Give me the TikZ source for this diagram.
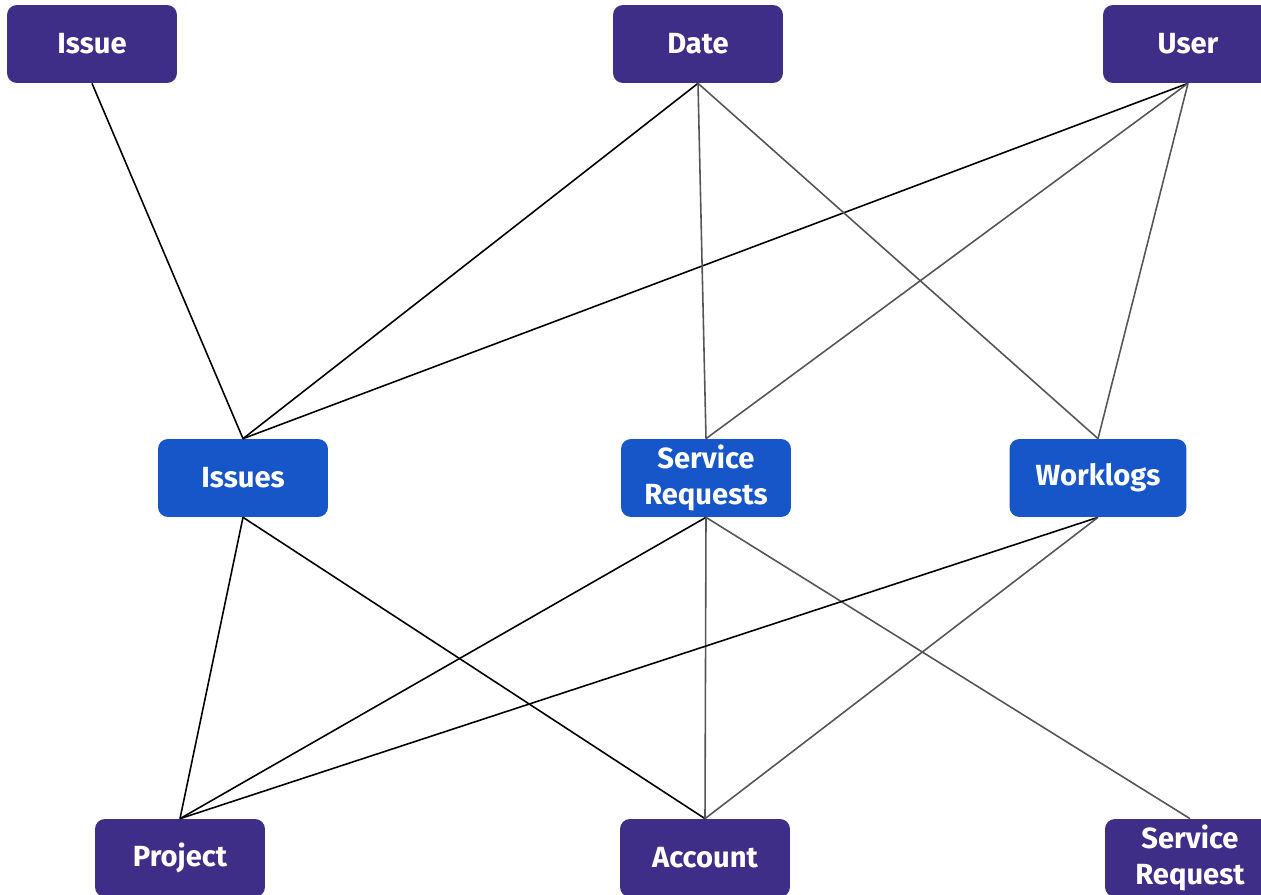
\documentclass[tikz,border=0pt]{standalone}
\usepackage{fontspec}
\setmainfont{Fira Sans}
\usepackage{tikz}
\usetikzlibrary{calc}

\definecolor{dimpurple}{HTML}{3E2E88}
\definecolor{factblue}{HTML}{1656C8}
\definecolor{linkgray}{HTML}{555555}

\tikzset{
  dimbox/.style={rectangle, rounded corners=0.2cm, fill=dimpurple, text=white,
    font=\fontsize{16.6}{20.5}\selectfont\bfseries, minimum width=3.4cm,
    minimum height=1.56cm, align=center, inner sep=0pt},
  factbox/.style={dimbox, fill=factblue},
  strong/.style={draw=black, line width=0.9pt},
  weak/.style={draw=linkgray, line width=0.9pt}
}

\begin{document}
\begin{tikzpicture}[x=0.02cm, y=-0.02cm]
      \useasboundingbox (0,0) rectangle (1261,895);
      % dimension nodes (top)
      \node[dimbox] (issue) at (92,44) {Issue};
      \node[dimbox] (date) at (698,44) {Date};
      \node[dimbox] (user) at (1188,44) {User};
      % fact nodes
      \node[factbox] (issues) at (243,478) {Issues};
      \node[factbox] (servreqs) at (706,478) {Service\\Requests};
      \node[factbox, minimum width=3.54cm] (worklogs) at (1098,478) {Worklogs};
      % dimension nodes (bottom)
      \node[dimbox] (project) at (180,858) {Project};
      \node[dimbox] (account) at (705,858) {Account};
      \node[dimbox] (servreq) at (1190,858) {Service\\Request};
      % upper edges
      \draw[strong] (issue.south) -- (issues.north);
      \draw[strong] (date.south) -- (issues.north);
      \draw[strong] (user.south) -- (issues.north);
      \draw[weak] (date.south) -- (servreqs.north);
      \draw[weak] (date.south) -- (worklogs.north);
      \draw[weak] (user.south) -- (servreqs.north);
      \draw[weak] (user.south) -- (worklogs.north);
      % lower edges
      \draw[strong] (issues.south) -- (project.north);
      \draw[strong] (issues.south) -- (account.north);
      \draw[strong] (servreqs.south) -- (project.north);
      \draw[weak] (servreqs.south) -- (account.north);
      \draw[weak] (servreqs.south) -- (servreq.north);
      \draw[strong] (worklogs.south) -- (project.north);
      \draw[weak] (worklogs.south) -- (account.north);
\end{tikzpicture}
\end{document}
